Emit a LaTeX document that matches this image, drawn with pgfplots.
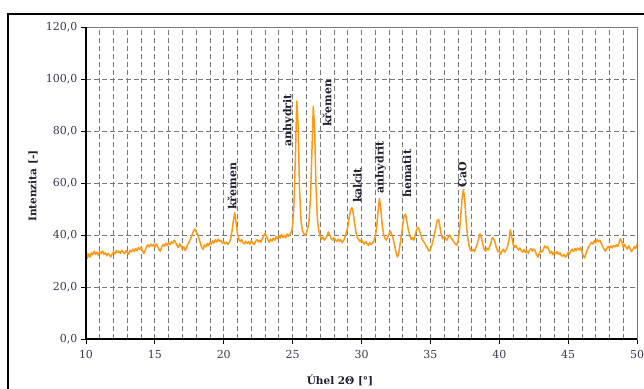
\documentclass[border=0pt]{standalone}
\usepackage{fontspec}
\setmainfont{DejaVu Serif}
\usepackage{pgfplots}
\pgfplotsset{compat=1.18}
\usepackage{pgfplotstable}
\definecolor{xrd}{RGB}{255,153,20}
\definecolor{ticklab}{RGB}{55,55,85}
\definecolor{gridc}{RGB}{120,120,120}
\definecolor{annot}{RGB}{30,30,45}
\pgfplotstableread{
x y
10.0 34.5
10.1 31.0
10.2 32.8
10.3 31.5
10.4 33.2
10.5 32.4
10.6 33.8
10.7 32.6
10.8 33.4
10.9 32.2
11.0 33.6
11.1 32.8
11.2 33.9
11.3 32.5
11.4 33.2
11.5 32.0
11.6 33.0
11.7 32.3
11.8 31.6
11.9 32.8
12.0 33.5
12.1 32.7
12.2 34.0
12.3 33.2
12.4 33.8
12.5 33.0
12.6 34.2
12.7 33.4
12.8 32.8
12.9 34.0
13.0 33.3
13.1 32.6
13.2 34.1
13.3 33.5
13.4 34.6
13.5 33.7
13.6 34.8
13.7 34.0
13.8 35.2
13.9 34.4
14.0 35.5
14.1 33.8
14.2 32.9
14.3 34.2
14.4 35.6
14.5 36.2
14.6 35.4
14.7 36.5
14.8 35.8
14.9 36.4
15.0 35.3
15.1 36.6
15.2 35.6
15.3 34.3
15.4 33.8
15.5 35.5
15.6 36.4
15.7 35.7
15.8 36.9
15.9 36.0
16.0 37.0
16.1 36.2
16.2 37.4
16.3 36.8
16.4 38.0
16.5 37.2
16.6 36.0
16.7 35.2
16.8 36.6
16.9 35.8
17.0 34.4
17.1 35.5
17.2 34.0
17.3 35.2
17.4 36.5
17.5 37.4
17.6 38.6
17.7 40.0
17.8 41.5
17.9 42.3
18.0 41.2
18.1 40.3
18.2 38.5
18.3 37.0
18.4 35.2
18.5 34.5
18.6 36.2
18.7 35.4
18.8 36.8
18.9 35.9
19.0 37.2
19.1 36.4
19.2 37.8
19.3 36.9
19.4 38.2
19.5 37.3
19.6 38.4
19.7 37.6
19.8 38.0
19.9 36.8
20.0 37.5
20.1 36.6
20.2 37.2
20.3 36.4
20.4 37.0
20.5 38.5
20.6 41.5
20.7 45.5
20.8 48.5
20.9 45.0
21.0 40.5
21.1 38.2
21.2 37.4
21.3 38.3
21.4 37.0
21.5 36.6
21.6 37.6
21.7 36.8
21.8 37.4
21.9 36.5
22.0 37.8
22.1 36.9
22.2 36.3
22.3 37.5
22.4 38.2
22.5 37.4
22.6 38.0
22.7 37.2
22.8 38.6
22.9 39.8
23.0 40.6
23.1 39.5
23.2 38.3
23.3 37.2
23.4 38.4
23.5 37.6
23.6 38.8
23.7 38.0
23.8 39.4
23.9 38.5
24.0 39.6
24.1 38.8
24.2 40.2
24.3 39.1
24.4 39.8
24.5 38.9
24.6 40.4
24.7 39.5
24.8 40.3
24.9 41.0
25.0 43.5
25.1 52.0
25.2 70.0
25.3 91.5
25.4 82.0
25.5 58.0
25.6 46.0
25.7 42.0
25.8 40.5
25.9 39.8
26.0 40.8
26.1 42.5
26.2 46.0
26.3 55.0
26.4 72.0
26.5 89.5
26.6 80.0
26.7 58.0
26.8 46.0
26.9 41.5
27.0 39.6
27.1 38.4
27.2 39.2
27.3 38.0
27.4 38.8
27.5 39.8
27.6 41.2
27.7 40.0
27.8 38.6
27.9 38.0
28.0 39.0
28.1 38.2
28.2 37.5
28.3 38.4
28.4 37.6
28.5 38.2
28.6 37.0
28.7 37.8
28.8 39.2
28.9 41.0
29.0 43.0
29.1 46.5
29.2 49.5
29.3 50.5
29.4 48.5
29.5 44.5
29.6 41.0
29.7 39.0
29.8 38.2
29.9 37.4
30.0 38.3
30.1 37.2
30.2 36.5
30.3 37.5
30.4 36.8
30.5 36.0
30.6 37.0
30.7 36.4
30.8 36.9
30.9 37.8
31.0 39.5
31.1 43.0
31.2 49.0
31.3 54.0
31.4 50.0
31.5 44.0
31.6 40.5
31.7 38.8
31.8 38.0
31.9 39.2
32.0 40.5
32.1 41.5
32.2 40.2
32.3 38.5
32.4 36.0
32.5 33.5
32.6 31.5
32.7 33.0
32.8 36.5
32.9 40.0
33.0 44.0
33.1 47.5
33.2 48.0
33.3 45.0
33.4 42.0
33.5 40.0
33.6 38.2
33.7 39.0
33.8 38.0
33.9 40.2
34.0 42.0
34.1 43.0
34.2 41.8
34.3 40.0
34.4 38.4
34.5 37.5
34.6 36.8
34.7 35.6
34.8 34.8
34.9 33.8
35.0 34.4
35.1 36.0
35.2 38.0
35.3 40.5
35.4 43.0
35.5 45.5
35.6 46.0
35.7 43.0
35.8 40.0
35.9 38.5
36.0 39.5
36.1 38.6
36.2 38.0
36.3 39.2
36.4 40.0
36.5 39.0
36.6 38.2
36.7 37.4
36.8 36.6
36.9 36.0
37.0 37.5
37.1 41.0
37.2 47.0
37.3 54.0
37.4 57.5
37.5 53.0
37.6 45.0
37.7 39.5
37.8 36.0
37.9 34.2
38.0 33.8
38.1 34.5
38.2 33.6
38.3 35.0
38.4 36.5
38.5 38.5
38.6 40.5
38.7 39.0
38.8 36.5
38.9 34.5
39.0 33.8
39.1 35.0
39.2 34.2
39.3 35.5
39.4 37.0
39.5 39.0
39.6 38.5
39.7 37.0
39.8 35.0
39.9 33.5
40.0 34.0
40.1 32.6
40.2 33.8
40.3 34.6
40.4 33.5
40.5 34.3
40.6 35.5
40.7 38.0
40.8 42.0
40.9 39.5
41.0 36.5
41.1 35.2
41.2 36.0
41.3 35.0
41.4 34.2
41.5 35.0
41.6 34.0
41.7 33.4
41.8 34.4
41.9 33.2
42.0 34.0
42.1 33.0
42.2 34.2
42.3 34.8
42.4 33.8
42.5 34.6
42.6 34.0
42.7 32.5
42.8 31.5
42.9 32.8
43.0 34.0
43.1 33.4
43.2 34.5
43.3 35.8
43.4 35.0
43.5 35.6
43.6 34.2
43.7 33.0
43.8 33.8
43.9 32.4
44.0 33.5
44.1 32.8
44.2 33.6
44.3 32.5
44.4 33.2
44.5 32.2
44.6 31.8
44.7 32.6
44.8 31.5
44.9 32.0
45.0 33.4
45.1 32.6
45.2 34.0
45.3 34.6
45.4 33.6
45.5 34.8
45.6 34.0
45.7 35.0
45.8 34.2
45.9 35.2
46.0 33.5
46.1 32.0
46.2 31.2
46.3 32.8
46.4 34.5
46.5 35.6
46.6 36.4
46.7 37.2
46.8 36.5
46.9 37.8
47.0 37.0
47.1 38.2
47.2 37.4
47.3 38.0
47.4 36.8
47.5 35.6
47.6 34.6
47.7 33.8
47.8 34.8
47.9 35.6
48.0 34.8
48.1 35.8
48.2 35.0
48.3 36.0
48.4 35.4
48.5 36.2
48.6 35.6
48.7 37.0
48.8 38.6
48.9 37.2
49.0 35.2
49.1 36.4
49.2 35.4
49.3 34.6
49.4 35.8
49.5 34.8
49.6 33.6
49.7 34.4
49.8 35.5
49.9 34.8
50.0 36.5
}\xrddata

\begin{document}
\begin{tikzpicture}[x=1pt,y=1pt]
\useasboundingbox (0,0) rectangle (644,388);
\draw[line width=2pt] (7.8,-20) rectangle (680,373.7);
\begin{axis}[
  at={(86pt,49pt)}, anchor=south west,
  scale only axis, width=551pt, height=312pt,
  xmin=10, xmax=50, ymin=0, ymax=120,
  xtick={10,15,...,50}, ytick={0,20,...,120},
  minor x tick num=4,
  minor tick length=0pt, major tick length=5pt, tick align=outside,
  xtick pos=lower, ytick pos=left,
  grid style={gridc, line width=0.8pt, dash pattern=on 5pt off 3pt},
  xmajorgrids, xminorgrids, ymajorgrids,
  axis line style={gridc, line width=0.7pt},
  tick style={black, line width=0.9pt},
  /pgf/number format/assume math mode=true,
  ticklabel style={font=\fontsize{11}{13}\selectfont, text=ticklab},
  y tick label style={/pgf/number format/.cd, fixed, fixed zerofill, precision=1, use comma, /tikz/.cd},
  x tick label style={yshift=-3pt, /pgf/number format/.cd, fixed, precision=0, /tikz/.cd},
  xlabel={Úhel 2Θ [°]},
  ylabel={Intenzita [-]},
  xlabel style={at={(axis description cs:0.461,0)}, anchor=center, yshift=-41pt, font=\bfseries\fontsize{10.5}{12}\selectfont, text=annot},
  ylabel style={at={(axis description cs:-0.0962,0.49)}, anchor=center, font=\bfseries\fontsize{10.5}{12}\selectfont, text=annot},
  clip=false,
]
\addplot[xrd, line width=1.5pt, line join=round] table[x=x,y=y] {\xrddata};
\draw[black, line width=1.5pt] (rel axis cs:0,1) -- (rel axis cs:0,0) -- (rel axis cs:1,0);
\tikzset{lab/.style={rotate=90, anchor=west, inner sep=0pt, font=\bfseries\fontsize{11}{13}\selectfont, text=annot}}
\node[lab] at (axis cs:20.6,49.6) {křemen};
\node[lab] at (axis cs:24.7,74.0) {anhydrit};
\node[lab] at (axis cs:27.5,81.5) {křemen};
\node[lab] at (axis cs:29.7,52.3) {kalcit};
\node[lab] at (axis cs:31.4,56.0) {anhydrit};
\node[lab] at (axis cs:33.3,54.2) {hematit};
\node[lab] at (axis cs:37.33,58.3) {CaO};
\end{axis}
\end{tikzpicture}
\end{document}
